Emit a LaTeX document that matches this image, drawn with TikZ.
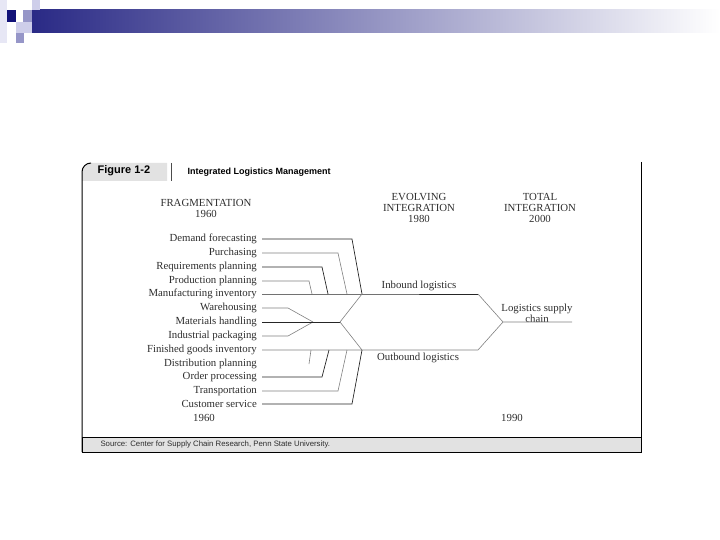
\documentclass[tikz,border=0pt]{standalone}
\usepackage{fontspec}
\setmainfont{Liberation Serif}
\newfontfamily\figsans{Liberation Sans}
\usetikzlibrary{positioning}

\definecolor{navy}{RGB}{18,18,120}
\definecolor{fadegray}{RGB}{165,165,185}
\definecolor{tabgray}{RGB}{226,226,226}
\definecolor{lav}{RGB}{150,150,200}
\definecolor{palelav}{RGB}{206,206,234}
\definecolor{ink}{RGB}{45,45,45}

\tikzset{
  lbl/.style={anchor=east, inner sep=0pt, text=ink, font=\fontsize{10.8}{12}\selectfont},
  era/.style={align=center, inner sep=0pt, text=ink, font=\fontsize{10.8}{11}\selectfont},
  link/.style={line width=0.7pt, black!85},
  pale link/.style={line width=0.6pt, black!50},
  border/.style={line width=1pt, black},
}

\begin{document}
\begin{tikzpicture}[x=1pt,y=-1pt]
  \useasboundingbox (0,0) rectangle (720,540);

  % slide banner
  \fill[palelav!50] (0,0) rectangle (7,43);
  \shade[left color=navy!90, middle color=fadegray, right color=white] (32,10) rectangle (720,33);
  \fill[palelav] (32,0) rectangle (40,10);
  \fill[lav] (23,10) rectangle (32,22);
  \fill[navy] (7,10) rectangle (16,22);
  \fill[palelav] (16,22) rectangle (32,33);
  \fill[lav] (16,33) rectangle (24,43);

  % figure frame
  \fill[tabgray] (82,181) -- (82,172) arc[start angle=180, end angle=270, radius=9] -- (167,163) -- (167,181) -- cycle;
  \draw[border] (82,452) -- (82,172) arc[start angle=180, end angle=270, radius=9];
  \draw[border] (641,162) -- (641,452);
  \draw[border, fill=tabgray] (82,437) rectangle (641,452);
  \draw[line width=0.8pt, black!70] (171,163) -- (171,181);

  \node[font=\figsans\bfseries\fontsize{11}{12}\selectfont] (fig) at (124,171) {Figure 1-2};
  \node[anchor=west, font=\figsans\bfseries\fontsize{9}{10}\selectfont] (title) at (184,172) {Integrated Logistics Management};
  \node[anchor=west, text=ink, font=\figsans\fontsize{7.8}{9}\selectfont] (src) at (97,444) {Source: Center for Supply Chain Research, Penn State University.};

  % era headings
  \node[era] (frag) at (206,208) {FRAGMENTATION\\1960};
  \node[era] (evolve) at (419,208) {EVOLVING\\INTEGRATION\\1980};
  \node[era] (total) at (540,208) {TOTAL\\INTEGRATION\\2000};
  \node[era] (y60) at (204,418) {1960};
  \node[era] (y90) at (512,418) {1990};

  % activities
  \node[lbl] (df) at (257,239) {Demand forecasting};
  \node[lbl] (pu) at (257,253) {Purchasing};
  \node[lbl] (rp) at (257,267) {Requirements planning};
  \node[lbl] (pp) at (257,281) {Production planning};
  \node[lbl] (mi) at (257,294) {Manufacturing inventory};
  \node[lbl] (wh) at (257,308) {Warehousing};
  \node[lbl] (mh) at (257,322) {Materials handling};
  \node[lbl] (ip) at (257,336) {Industrial packaging};
  \node[lbl] (fg) at (257,350) {Finished goods inventory};
  \node[lbl] (dp) at (257,364) {Distribution planning};
  \node[lbl] (op) at (257,377) {Order processing};
  \node[lbl] (tr) at (257,391) {Transportation};
  \node[lbl] (cs) at (257,404) {Customer service};

  % joints
  \coordinate (inb) at (362,294);
  \coordinate (outb) at (362,350);
  \coordinate (hub) at (340,322);
  \coordinate (pack) at (313,322);
  \coordinate (merge) at (503,322);
  \coordinate (lsc) at (572,322);

  \node[era] (inlog) at (419,286) {Inbound logistics};
  \node[era] (outlog) at (418,358) {Outbound logistics};
  \node[era] (chain) at (537,313) {Logistics supply\\chain};

  % inbound side
  \draw[link] ([xshift=5]df.east) -- (df.east -| 352,0) -- (inb);
  \draw[pale link] ([xshift=5]pu.east) -- (pu.east -| 338,0) -- (inb -| 347,0);
  \draw[link] ([xshift=5]rp.east) -- (rp.east -| 322,0) -- (inb -| 328,0);
  \draw[pale link] ([xshift=5]pp.east) -- (pp.east -| 309,0) -- (inb -| 312,0);
  \draw[link] ([xshift=5]mi.east) -- (inb) -- (inb -| 478,0);
  \draw[pale link] (inb -| 478,0) -- (merge) -- (lsc);

  % middle
  \draw[pale link] ([xshift=5]wh.east) -- (wh.east -| 288,0) -- (pack);
  \draw[pale link] ([xshift=5]ip.east) -- (ip.east -| 288,0) -- (pack);
  \draw[link] ([xshift=5]mh.east) -- (hub);
  \draw[pale link] (inb) -- (hub) -- (outb);

  % outbound side
  \draw[pale link] ([xshift=5]fg.east) -- (outb) -- (outb -| 478,0) -- (merge);
  \draw[pale link] (outb -| 311,0) -- (dp.east -| 309,0);
  \draw[link] ([xshift=5]op.east) -- (op.east -| 322,0) -- (outb -| 329,0);
  \draw[pale link] ([xshift=5]tr.east) -- (tr.east -| 338,0) -- (outb -| 347,0);
  \draw[link] ([xshift=5]cs.east) -- (cs.east -| 352,0) -- (outb);
\end{tikzpicture}
\end{document}
